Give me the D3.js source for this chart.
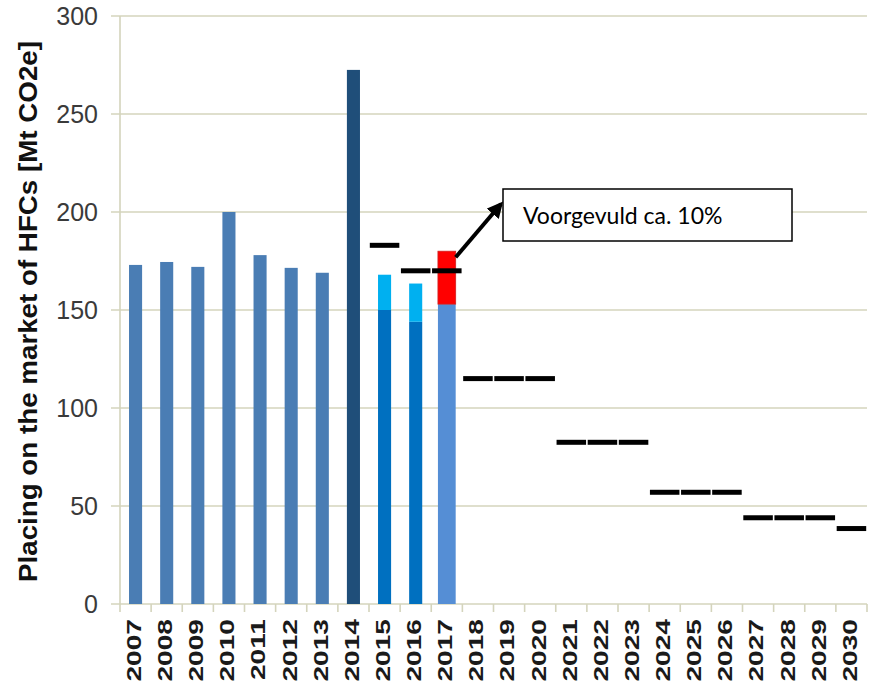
<!DOCTYPE html>
<html>
<head>
<meta charset="utf-8">
<script src="https://cdn.jsdelivr.net/npm/d3@7"></script>
<style>
  body { margin: 0; background: #fff; }
  svg { display: block; }
</style>
</head>
<body>
<svg id="svg" width="874" height="684"></svg>
<script>
// categories
let years = d3.range(2007, 2031).map(String);

// placed on the market (lower part of the bar), Mt CO2e
let placedYears = ['2007', '2008', '2009', '2010', '2011', '2012', '2013', '2014', '2015', '2016', '2017'];
let placed = [173, 174.5, 172, 200, 178, 171.5, 169, 272.5, 150, 144, 153];

// upper part of the stacked bars (2015-2017)
let extraYears = ['2015', '2016', '2017'];
let extra = [18, 19.5, 27];

// quota / phase-down steps
let quotaYears = d3.range(2015, 2031).map(String);
let quota = [183, 170, 170, 115, 115, 115, 82.5, 82.5, 82.5, 57, 57, 57, 44, 44, 44, 38.5];

let yTicks = [0, 50, 100, 150, 200, 250, 300];

let svg = d3.select('#svg');

let padding = { t: 16, r: 7, b: 80, l: 120 };
let svgWidth = +svg.attr('width');
let svgHeight = +svg.attr('height');

let x = d3.scaleBand()
    .domain(years)
    .range([padding.l, svgWidth - padding.r]);

let y = d3.scaleLinear()
    .domain([0, 300])
    .range([svgHeight - padding.b, padding.t]);

let gridColor = '#d4d4bc';

// gridlines (with the small tick sticking out on the left)
svg.append('g')
    .selectAll('line')
    .data(yTicks)
    .enter()
    .append('line')
    .attr('x1', padding.l - 9)
    .attr('x2', svgWidth - padding.r)
    .attr('y1', d => y(d))
    .attr('y2', d => y(d))
    .attr('stroke', gridColor)
    .attr('stroke-width', 1.6);

// y axis line
svg.append('line')
    .attr('x1', padding.l).attr('x2', padding.l)
    .attr('y1', y(300)).attr('y2', y(0))
    .attr('stroke', gridColor)
    .attr('stroke-width', 1.6);

// y tick labels
let yAxis = svg.append('g')
    .attr('transform', 'translate(' + padding.l + ',0)')
    .call(d3.axisLeft(y).tickValues(yTicks).tickSize(0).tickPadding(22));
yAxis.select('.domain').remove();
yAxis.selectAll('text')
    .attr('font-family', 'Liberation Sans, Arial, sans-serif')
    .attr('font-size', '25px')
    .attr('fill', '#3a3a3a');

// x tick marks at band boundaries
let boundaries = years.map(d => x(d)).concat([x.range()[1]]);
svg.append('g')
    .selectAll('line')
    .data(boundaries)
    .enter()
    .append('line')
    .attr('x1', d => d).attr('x2', d => d)
    .attr('y1', y(0)).attr('y2', y(0) + 8)
    .attr('stroke', gridColor)
    .attr('stroke-width', 1.6);

// x labels
let xAxis = svg.append('g')
    .attr('transform', 'translate(0,' + y(0) + ')')
    .call(d3.axisBottom(x).tickSize(0));
xAxis.select('.domain').remove();
xAxis.selectAll('text')
    .attr('font-family', 'Liberation Sans, Arial, sans-serif')
    .attr('font-size', '21px')
    .attr('font-weight', 'bold')
    .attr('fill', '#1a1a1a')
    .attr('text-anchor', 'end')
    .attr('x', 0)
    .attr('y', 0)
    .attr('dy', '0.35em')
    .attr('transform', 'translate(-2,15) rotate(-90) scale(1.34,1)');

// bar colours
let baseColor = d => d === '2014' ? '#1f4e79' : (d === '2015' || d === '2016') ? '#0070c0' : d === '2017' ? '#558ed5' : '#4a7db4';
let topColor = d => d === '2017' ? '#ff0000' : '#00b0f0';
let barW = d => d === '2017' ? x.bandwidth() * 0.57 : x.bandwidth() * 0.42;

let base = placedYears.map((d, i) => ({ year: d, value: placed[i] }));
let tops = extraYears.map((d, i) => ({ year: d, start: placed[placedYears.indexOf(d)], value: extra[i] }));

svg.append('g')
    .selectAll('rect')
    .data(base)
    .enter()
    .append('rect')
    .attr('x', d => x(d.year) + (x.bandwidth() - barW(d.year)) / 2)
    .attr('width', d => barW(d.year))
    .attr('y', d => y(d.value))
    .attr('height', d => y(0) - y(d.value))
    .attr('fill', d => baseColor(d.year));

svg.append('g')
    .selectAll('rect')
    .data(tops)
    .enter()
    .append('rect')
    .attr('x', d => x(d.year) + (x.bandwidth() - barW(d.year)) / 2)
    .attr('width', d => barW(d.year))
    .attr('y', d => y(d.start + d.value))
    .attr('height', d => y(d.start) - y(d.start + d.value))
    .attr('fill', d => topColor(d.year))
    .attr('stroke', d => d.year === '2017' ? '#d02020' : 'none')
    .attr('stroke-width', 0.8);

// quota steps
svg.append('g')
    .selectAll('line')
    .data(quotaYears.map((d, i) => ({ year: d, value: quota[i] })))
    .enter()
    .append('line')
    .attr('x1', d => x(d.year) + 0.8)
    .attr('x2', d => x(d.year) + x.bandwidth() - 0.8)
    .attr('y1', d => y(d.value))
    .attr('y2', d => y(d.value))
    .attr('stroke', '#000')
    .attr('stroke-width', 5);

// y axis title
let titleX = 37;
let titleY = (41 + 582) / 2;
svg.append('text')
    .attr('transform', 'translate(' + titleX + ',' + titleY + ') rotate(-90)')
    .attr('text-anchor', 'middle')
    .attr('font-family', 'Liberation Sans, Arial, sans-serif')
    .attr('font-weight', 'bold')
    .attr('font-size', '25px')
    .attr('fill', '#111')
    .attr('textLength', 541)
    .attr('lengthAdjust', 'spacingAndGlyphs')
    .text('Placing on the market of HFCs [Mt CO2e]');

// annotation box + arrow
let box = { x: 503, y: 189, w: 289, h: 52 };

svg.append('defs').append('marker')
    .attr('id', 'arrow')
    .attr('viewBox', '0 0 10 10')
    .attr('refX', 8).attr('refY', 5)
    .attr('markerWidth', 4).attr('markerHeight', 4)
    .attr('orient', 'auto')
    .append('path')
    .attr('d', 'M0,0 L10,5 L0,10 z')
    .attr('fill', '#000');

let redTop = 2;
let ax = x('2017') + (x.bandwidth() + barW('2017')) / 2;
let ay = y(tops[redTop].start + tops[redTop].value) + 6;
svg.append('line')
    .attr('x1', ax).attr('y1', ay)
    .attr('x2', box.x - 2).attr('y2', 204)
    .attr('stroke', '#000')
    .attr('stroke-width', 4)
    .attr('marker-end', 'url(#arrow)');

svg.append('rect')
    .attr('x', box.x).attr('y', box.y)
    .attr('width', box.w).attr('height', box.h)
    .attr('fill', '#fff')
    .attr('stroke', '#000')
    .attr('stroke-width', 1.5);

svg.append('text')
    .attr('x', box.x + 20)
    .attr('y', box.y + 35)
    .attr('font-family', 'Lato, sans-serif')
    .attr('font-size', '23px')
    .attr('fill', '#000')
    .text('Voorgevuld ca. 10%');
</script>
</body>
</html>
